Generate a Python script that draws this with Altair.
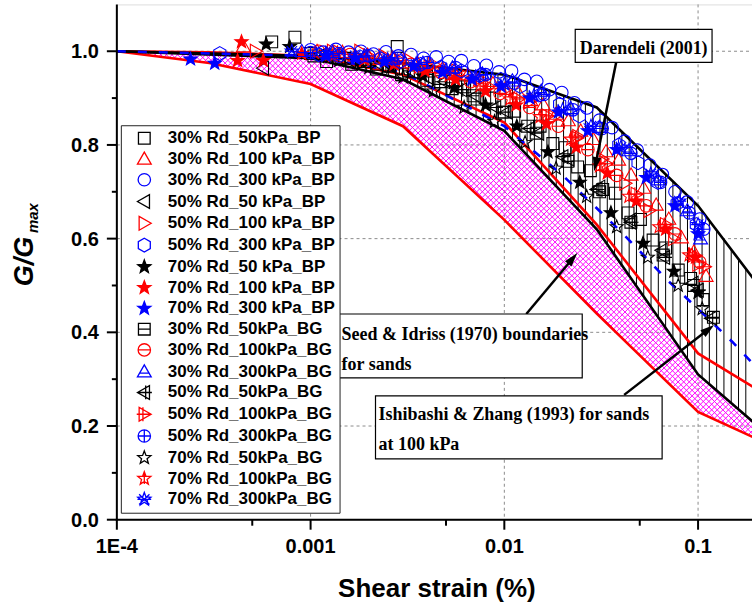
import math
import numpy as np
import pandas as pd
import altair as alt

# ---------------- axis ticks ----------------
X_TICKS = [1e-4, 1e-3, 1e-2, 1e-1]
X_TICK_LABELS = ["1E-4", "0.001", "0.01", "0.1"]
X_MINOR = [5e-4, 5e-3, 5e-2]
Y_TICKS = [0.0, 0.2, 0.4, 0.6, 0.8, 1.0]
Y_TICK_LABELS = ["0.0", "0.2", "0.4", "0.6", "0.8", "1.0"]
Y_MINOR = [0.1, 0.3, 0.5, 0.7, 0.9]

# ---------------- reference curves ----------------
SI_STRAIN = [1e-4, 3e-4, 1e-3, 3e-3, 1e-2, 3e-2, 1e-1, 3e-1]
SI_LOWER = [1.0, 0.975, 0.93, 0.84, 0.64, 0.44, 0.23, 0.14]
SI_UPPER = [1.0, 0.998, 0.99, 0.95, 0.848, 0.63, 0.355, 0.235]

DAR_STRAIN = [1e-4, 1e-3, 3e-3, 1e-2, 3e-2, 1e-1, 3e-1]
DAR_LOWER = [1.0, 0.985, 0.94, 0.83, 0.62, 0.31, 0.14]
DAR_UPPER = [1.0, 0.99, 0.975, 0.95, 0.88, 0.67, 0.41]

IZ_STRAIN = [1e-4, 1e-3, 3e-3, 1e-2, 2e-2, 4e-2, 7e-2, 1e-1, 1.5e-1, 2e-1, 3e-1]
IZ_G = [1.0, 0.99, 0.955, 0.84, 0.735, 0.615, 0.51, 0.45, 0.38, 0.325, 0.26]

# ---------------- test series (strain %, G/Gmax) ----------------
S30_50_BP_X = [0.00063, 0.00083, 0.0028, 0.00104, 0.00121, 0.0014, 0.00163, 0.00189, 0.00219, 0.00255,
               0.00295, 0.00343, 0.00398, 0.00463, 0.00537, 0.00624, 0.00724, 0.0084, 0.00976, 0.0113,
               0.0132, 0.0153, 0.0178, 0.0206, 0.0239, 0.0278, 0.0322, 0.0374, 0.0435, 0.0504,
               0.0586, 0.068, 0.079, 0.0915, 0.106]
S30_50_BP_G = [1.02, 1.03, 1.01, 0.99, 0.978, 0.986, 0.972, 0.978, 0.962, 0.968,
               0.95, 0.956, 0.938, 0.942, 0.92, 0.924, 0.898, 0.9, 0.87, 0.872,
               0.84, 0.84, 0.803, 0.794, 0.753, 0.745, 0.705, 0.697, 0.655, 0.641,
               0.597, 0.58, 0.533, 0.515, 0.47]
S30_100_BP_X = [0.00045, 0.00108, 0.00125, 0.00146, 0.0017, 0.00197, 0.00228, 0.00265, 0.00307, 0.00356,
                0.00414, 0.0048, 0.00557, 0.00648, 0.00752, 0.00873, 0.0101, 0.0118, 0.0137, 0.0159,
                0.0185, 0.0214, 0.0248, 0.0288, 0.0335, 0.0389, 0.0451, 0.0524, 0.0608, 0.0706,
                0.0821, 0.0951, 0.11]
S30_100_BP_G = [1.01, 1.0, 0.993, 0.998, 0.99, 0.992, 0.983, 0.986, 0.976, 0.975,
                0.966, 0.963, 0.952, 0.95, 0.937, 0.931, 0.919, 0.912, 0.895, 0.886,
                0.866, 0.852, 0.83, 0.812, 0.786, 0.768, 0.736, 0.708, 0.672, 0.642,
                0.602, 0.572, 0.52]
S30_300_BP_X = [0.001, 0.00116, 0.00135, 0.00157, 0.00182, 0.00211, 0.00245, 0.00284, 0.0033, 0.00383,
                0.00445, 0.00516, 0.006, 0.00696, 0.00808, 0.00938, 0.0109, 0.0127, 0.0147, 0.0171,
                0.0198, 0.023, 0.0267, 0.031, 0.036, 0.0418, 0.0485, 0.0563, 0.0654, 0.076,
                0.088, 0.102]
S30_300_BP_G = [1.003, 0.998, 1.004, 0.998, 1.0, 0.994, 0.999, 0.99, 0.993, 0.985,
                0.988, 0.978, 0.98, 0.969, 0.97, 0.956, 0.958, 0.94, 0.936, 0.918,
                0.912, 0.89, 0.879, 0.853, 0.837, 0.808, 0.789, 0.757, 0.737, 0.7,
                0.678, 0.642]
S50_50_BP_X = [0.00057, 0.0011, 0.0016, 0.0023, 0.0034, 0.0049, 0.0071, 0.0103, 0.015, 0.0215, 0.031, 0.045, 0.065, 0.094]
S50_50_BP_G = [0.964, 0.99, 0.98, 0.97, 0.955, 0.935, 0.905, 0.87, 0.825, 0.77, 0.71, 0.64, 0.575, 0.505]
S50_100_BP_X = [0.00052, 0.0013, 0.0018, 0.0024, 0.0032, 0.0043, 0.0057, 0.0076, 0.0101, 0.0135, 0.018, 0.024, 0.032, 0.042, 0.056, 0.075, 0.1]
S50_100_BP_G = [1.0, 1.0, 1.0, 0.99, 0.982, 0.972, 0.958, 0.94, 0.918, 0.892, 0.86, 0.818, 0.77, 0.718, 0.66, 0.6, 0.545]
S50_300_BP_X = [0.00034, 0.0011, 0.0014, 0.0018, 0.0023, 0.0029, 0.0037, 0.0047, 0.006, 0.0076, 0.0096, 0.0121, 0.0153, 0.0193, 0.0244, 0.0308, 0.039, 0.049, 0.062, 0.078, 0.098]
S50_300_BP_G = [0.995, 0.993, 0.99, 0.988, 0.984, 0.978, 0.972, 0.966, 0.958, 0.95, 0.94, 0.925, 0.907, 0.887, 0.862, 0.836, 0.8, 0.762, 0.72, 0.675, 0.63]
S70_50_BP_X = [0.00059, 0.00078, 0.0012, 0.0018, 0.0026, 0.0038, 0.0055, 0.008, 0.0116, 0.0168, 0.0245, 0.0355, 0.052, 0.075, 0.1]
S70_50_BP_G = [1.015, 1.01, 0.99, 0.98, 0.965, 0.947, 0.922, 0.885, 0.84, 0.785, 0.72, 0.655, 0.59, 0.53, 0.485]
S70_100_BP_X = [0.00042, 0.00044, 0.00057, 0.0009, 0.0013, 0.0019, 0.0027, 0.0039, 0.0056, 0.008, 0.0115, 0.0165, 0.0235, 0.034, 0.048, 0.068, 0.097]
S70_100_BP_G = [0.98, 1.02, 0.98, 0.995, 0.99, 0.982, 0.972, 0.958, 0.94, 0.915, 0.885, 0.845, 0.795, 0.74, 0.68, 0.62, 0.56]
S70_300_BP_X = [0.00024, 0.00032, 0.0012, 0.0017, 0.0024, 0.0034, 0.0048, 0.0068, 0.0096, 0.0135, 0.019, 0.027, 0.038, 0.054, 0.076, 0.1]
S70_300_BP_G = [0.983, 0.974, 0.99, 0.985, 0.978, 0.968, 0.955, 0.94, 0.925, 0.9, 0.87, 0.83, 0.79, 0.73, 0.67, 0.61]
S30_50_BG_X = [0.001, 0.0015, 0.0022, 0.0032, 0.0047, 0.0069, 0.01, 0.0146, 0.0213, 0.031, 0.045, 0.066, 0.095, 0.12]
S30_50_BG_G = [0.995, 0.985, 0.972, 0.958, 0.935, 0.905, 0.87, 0.825, 0.765, 0.7, 0.635, 0.565, 0.5, 0.432]
S30_100_BG_X = [0.0011, 0.0016, 0.0023, 0.0033, 0.0047, 0.0067, 0.0095, 0.0135, 0.019, 0.027, 0.038, 0.054, 0.076, 0.102]
S30_100_BG_G = [1.0, 0.993, 0.985, 0.972, 0.955, 0.935, 0.91, 0.88, 0.84, 0.79, 0.735, 0.67, 0.61, 0.55]
S30_300_BG_X = [0.0009, 0.0013, 0.0019, 0.0027, 0.0038, 0.0054, 0.0077, 0.011, 0.0155, 0.022, 0.031, 0.044, 0.062, 0.088, 0.103]
S30_300_BG_G = [1.0, 0.998, 0.99, 0.984, 0.975, 0.965, 0.952, 0.937, 0.915, 0.878, 0.838, 0.788, 0.726, 0.66, 0.6]
S50_50_BG_X = [0.0012, 0.0018, 0.0027, 0.004, 0.006, 0.009, 0.0135, 0.02, 0.03, 0.045, 0.067, 0.1, 0.117]
S50_50_BG_G = [0.99, 0.98, 0.965, 0.945, 0.918, 0.88, 0.835, 0.775, 0.705, 0.635, 0.56, 0.49, 0.43]
S50_100_BG_X = [0.0014, 0.002, 0.0029, 0.0041, 0.0058, 0.0083, 0.0118, 0.0167, 0.0237, 0.0336, 0.048, 0.068, 0.095, 0.108]
S50_100_BG_G = [0.998, 0.99, 0.98, 0.966, 0.948, 0.925, 0.898, 0.862, 0.815, 0.76, 0.695, 0.63, 0.565, 0.54]
S50_300_BG_X = [0.001, 0.0014, 0.002, 0.0028, 0.004, 0.0056, 0.008, 0.0113, 0.016, 0.0226, 0.032, 0.045, 0.064, 0.09, 0.107]
S50_300_BG_G = [0.997, 0.995, 0.99, 0.985, 0.976, 0.965, 0.95, 0.932, 0.908, 0.875, 0.835, 0.782, 0.72, 0.655, 0.62]
S70_50_BG_X = [0.0014, 0.002, 0.003, 0.0043, 0.0062, 0.0089, 0.0128, 0.0185, 0.0266, 0.038, 0.055, 0.079, 0.105]
S70_50_BG_G = [0.98, 0.965, 0.945, 0.915, 0.88, 0.85, 0.805, 0.75, 0.69, 0.625, 0.56, 0.5, 0.45]
S70_100_BG_X = [0.0012, 0.0017, 0.0025, 0.0036, 0.0052, 0.0075, 0.0107, 0.0153, 0.022, 0.031, 0.044, 0.063, 0.09]
S70_100_BG_G = [0.995, 0.99, 0.98, 0.965, 0.948, 0.926, 0.898, 0.86, 0.812, 0.755, 0.69, 0.625, 0.565]
S70_300_BG_X = [0.0008, 0.0012, 0.0017, 0.0025, 0.0035, 0.005, 0.0071, 0.01, 0.0142, 0.02, 0.028, 0.04, 0.057, 0.08, 0.1]
S70_300_BG_G = [1.0, 0.995, 0.99, 0.982, 0.972, 0.96, 0.945, 0.93, 0.905, 0.875, 0.84, 0.795, 0.738, 0.68, 0.63]

SERIES = [
    "30% Rd_50kPa_BP", "30% Rd_100 kPa_BP", "30% Rd_300 kPa_BP",
    "50% Rd_50 kPa_BP", "50% Rd_100 kPa_BP", "50% Rd_300 kPa_BP",
    "70% Rd_50 kPa_BP", "70% Rd_100 kPa_BP", "70% Rd_300 kPa_BP",
    "30% Rd_50kPa_BG", "30% Rd_100kPa_BG", "30% Rd_300kPa_BG",
    "50% Rd_50kPa_BG", "50% Rd_100kPa_BG", "50% Rd_300kPa_BG",
    "70% Rd_50kPa_BG", "70% Rd_100kPa_BG", "70% Rd_300kPa_BG",
]
SERIES_DATA = [
    (S30_50_BP_X, S30_50_BP_G), (S30_100_BP_X, S30_100_BP_G), (S30_300_BP_X, S30_300_BP_G),
    (S50_50_BP_X, S50_50_BP_G), (S50_100_BP_X, S50_100_BP_G), (S50_300_BP_X, S50_300_BP_G),
    (S70_50_BP_X, S70_50_BP_G), (S70_100_BP_X, S70_100_BP_G), (S70_300_BP_X, S70_300_BP_G),
    (S30_50_BG_X, S30_50_BG_G), (S30_100_BG_X, S30_100_BG_G), (S30_300_BG_X, S30_300_BG_G),
    (S50_50_BG_X, S50_50_BG_G), (S50_100_BG_X, S50_100_BG_G), (S50_300_BG_X, S50_300_BG_G),
    (S70_50_BG_X, S70_50_BG_G), (S70_100_BG_X, S70_100_BG_G), (S70_300_BG_X, S70_300_BG_G),
]
DRAW_ORDER = [9, 12, 15, 0, 3, 6, 10, 13, 16, 1, 4, 7, 11, 14, 17, 8, 5, 2]

# ---------------- styles ----------------
K, R, B = "#000000", "#FF0000", "#0000FF"
STROKES = [K, R, B, K, R, B, K, R, B, K, R, B, K, R, B, K, R, B]
NONE = "transparent"
FILLS = [NONE, NONE, NONE, NONE, NONE, NONE, K, R, B,
         NONE, NONE, NONE, NONE, NONE, NONE, NONE, NONE, NONE]


def star_path():
    pts = []
    for k in range(10):
        r = 1.0 if k % 2 == 0 else 0.42
        a = math.radians(-90 + 36 * k)
        pts.append(f"{r * math.cos(a):.3f},{r * math.sin(a):.3f}")
    return "M" + "L".join(pts) + "Z"


SQUARE = "M-0.85,-0.85L0.85,-0.85L0.85,0.85L-0.85,0.85Z"
TRI_UP = "M0,-1L1,0.75L-1,0.75Z"
CIRCLE = "M0.9,0A0.9,0.9,0,1,1,-0.9,0A0.9,0.9,0,1,1,0.9,0Z"
TRI_LEFT = "M-1,0L0.75,-1L0.75,1Z"
TRI_RIGHT = "M1,0L-0.75,-1L-0.75,1Z"
HEX = "M0,-1L0.87,-0.5L0.87,0.5L0,1L-0.87,0.5L-0.87,-0.5Z"
STAR = star_path()
SHAPES = [
    SQUARE, TRI_UP, CIRCLE, TRI_LEFT, TRI_RIGHT, HEX, STAR, STAR, STAR,
    SQUARE + "M-0.85,0L0.85,0",
    CIRCLE + "M-0.9,0L0.9,0",
    TRI_UP + "M-0.7,0.2L0.7,0.2",
    TRI_LEFT + "M-1,0L1.1,0M0.2,-1L0.2,1",
    TRI_RIGHT + "M1,0L-1.1,0M-0.2,-1L-0.2,1",
    CIRCLE + "M-0.9,0L0.9,0M0,-0.9L0,0.9",
    STAR,
    STAR + "M-0.95,-0.31L0.95,-0.31M0,-1L0,0.8",
    STAR + "M-0.75,-0.75L0.75,0.75M0.75,-0.75L-0.75,0.75M-1,0L1,0",
]

# ---------------- geometry of the plot area ----------------
W, H = 636, 516
PX_PER_DECADE = 194.0
X_MIN = 1e-4
X_MAX = 10 ** (math.log10(X_MIN) + W / PX_PER_DECADE)
Y_MAX = 1.1
PX_PER_UNIT = H / Y_MAX


def to_u(x):
    return (np.log10(np.asarray(x, float)) - math.log10(X_MIN)) * PX_PER_DECADE


def from_u(u):
    return 10 ** (np.asarray(u, float) / PX_PER_DECADE + math.log10(X_MIN))


XS = alt.Scale(type="log", domain=[X_MIN, X_MAX], nice=False)
YS = alt.Scale(domain=[0, Y_MAX], nice=False, zero=False)
SANS = "Liberation Sans"
SERIF = "Liberation Serif"

# ---------------- hatch construction (decoration derived from the bands) ----------------
grid_u = np.arange(0, W + 0.25, 0.5)
si_u = to_u(SI_STRAIN)
si_lo = np.interp(grid_u, si_u, SI_LOWER)
si_hi = np.interp(grid_u, si_u, SI_UPPER)
segs = []
SP = 5.6
for c in np.arange(-H, W + H + SP, SP):
    for v in (grid_u - c, c - grid_u):
        yy = Y_MAX - v / PX_PER_UNIT
        ok = (v >= 0) & (v <= H) & (yy >= si_lo) & (yy <= si_hi)
        if not ok.any():
            continue
        idx = np.flatnonzero(ok)
        br = np.flatnonzero(np.diff(idx) > 1)
        starts = np.r_[idx[0], idx[br + 1]]
        ends = np.r_[idx[br], idx[-1]]
        for s, e in zip(starts, ends):
            if e > s:
                segs.append((float(from_u(grid_u[s])), float(yy[s]),
                             float(from_u(grid_u[e])), float(yy[e])))
seg_df = pd.DataFrame(segs, columns=["x1", "y1", "x2", "y2"])

dar_u = to_u(DAR_STRAIN)
hu = np.arange(2.0, W, 7.3)
vh_df = pd.DataFrame({
    "x": from_u(hu),
    "y1": np.interp(hu, dar_u, DAR_LOWER),
    "y2": np.interp(hu, dar_u, DAR_UPPER),
})

dar_df = pd.DataFrame({"strain": DAR_STRAIN, "lower": DAR_LOWER, "upper": DAR_UPPER})
dar_lines_df = pd.concat([
    pd.DataFrame({"strain": DAR_STRAIN, "g": DAR_LOWER, "edge": "lower"}),
    pd.DataFrame({"strain": DAR_STRAIN, "g": DAR_UPPER, "edge": "upper"}),
])
si_lines_df = pd.concat([
    pd.DataFrame({"strain": SI_STRAIN, "g": SI_LOWER, "edge": "lower"}),
    pd.DataFrame({"strain": SI_STRAIN, "g": SI_UPPER, "edge": "upper"}),
])
iz_df = pd.DataFrame({"strain": IZ_STRAIN, "g": IZ_G})

rows = []
for i in DRAW_ORDER:
    xs_, gs_ = SERIES_DATA[i]
    for a, b in zip(xs_, gs_):
        rows.append({"strain": a, "g": b, "series": SERIES[i]})
pts_df = pd.DataFrame(rows)
pts_df["order"] = range(len(pts_df))


def X(f):
    return alt.X(f, type="quantitative", scale=XS, axis=None)


def Y(f):
    return alt.Y(f, type="quantitative", scale=YS, axis=None)


ONE = pd.DataFrame({"k": [0]})

# ---------------- hand-built axes ----------------
grid_x = alt.Chart(pd.DataFrame({"v": X_TICKS[1:]})).mark_rule(
    color="#8c8c8c", strokeWidth=1, strokeDash=[3, 3]).encode(
    x=X("v"), y=alt.value(0), y2=alt.value(H))
grid_y = alt.Chart(pd.DataFrame({"v": Y_TICKS[1:]})).mark_rule(
    color="#8c8c8c", strokeWidth=1, strokeDash=[3, 3]).encode(
    y=Y("v"), x=alt.value(0), x2=alt.value(W))

x_lab_df = pd.DataFrame({"v": X_TICKS, "lab": X_TICK_LABELS})
y_lab_df = pd.DataFrame({"v": Y_TICKS, "lab": Y_TICK_LABELS})
x_major = alt.Chart(x_lab_df).mark_rule(color="black", strokeWidth=2).encode(
    x=X("v"), y=alt.value(H), y2=alt.value(H + 10))
y_major = alt.Chart(y_lab_df).mark_rule(color="black", strokeWidth=2).encode(
    y=Y("v"), x=alt.value(-10), x2=alt.value(0))
y_minor = alt.Chart(pd.DataFrame({"v": Y_MINOR})).mark_rule(color="black", strokeWidth=2).encode(
    y=Y("v"), x=alt.value(-5), x2=alt.value(0))
x_minor = alt.Chart(pd.DataFrame({"v": X_MINOR})).mark_rule(color="black", strokeWidth=2).encode(
    x=X("v"), y=alt.value(H), y2=alt.value(H + 6))
x_labels = alt.Chart(x_lab_df).mark_text(
    font=SANS, fontSize=20, fontWeight="bold", color="black", align="center",
    baseline="alphabetic").encode(x=X("v"), y=alt.value(549), text="lab:N")
y_labels = alt.Chart(y_lab_df).mark_text(
    font=SANS, fontSize=20, fontWeight="bold", color="black", align="right",
    baseline="alphabetic", dy=7).encode(y=Y("v"), x=alt.value(-18), text="lab:N")
domain_y = alt.Chart(ONE).mark_rule(color="black", strokeWidth=2).encode(
    x=alt.value(0), y=alt.value(0), y2=alt.value(H + 1))
domain_x = alt.Chart(ONE).mark_rule(color="black", strokeWidth=2).encode(
    y=alt.value(H), x=alt.value(-1), x2=alt.value(W))

# ---------------- data layers ----------------
si_hatch = alt.Chart(seg_df).mark_rule(color="#FF00FF", strokeWidth=1).encode(
    x=X("x1"), y=Y("y1"), x2="x2:Q", y2="y2:Q")
dar_fill = alt.Chart(dar_df).mark_area(color="white", opacity=1).encode(
    x=X("strain"), y=Y("lower"), y2="upper:Q")
dar_hatch = alt.Chart(vh_df).mark_rule(color="black", strokeWidth=1).encode(
    x=X("x"), y=Y("y1"), y2="y2:Q")
si_lines = alt.Chart(si_lines_df).mark_line(color="#FF0000", strokeWidth=2.6).encode(
    x=X("strain"), y=Y("g"), detail="edge:N")
iz_line = alt.Chart(iz_df).mark_line(color="#0000FF", strokeWidth=2.6, strokeDash=[9, 12]).encode(
    x=X("strain"), y=Y("g"))
dar_lines = alt.Chart(dar_lines_df).mark_line(color="black", strokeWidth=2.6).encode(
    x=X("strain"), y=Y("g"), detail="edge:N")

LEG = alt.Legend(
    title=None, orient="none", legendX=4, legendY=121, padding=4.5,
    symbolOffset=10.5, labelOffset=15, rowPadding=2.8,
    labelFont=SANS, labelFontSize=17, labelFontWeight="bold", labelColor="black",
    labelLimit=0, symbolSize=190, symbolStrokeWidth=1.3, symbolFillColor="transparent",
    symbolOpacity=1, fillColor="white", strokeColor="#222222", zindex=1,
)
points = alt.Chart(pts_df).mark_point(size=195, strokeWidth=1.1, opacity=1).encode(
    x=X("strain"), y=Y("g"),
    fill=alt.Fill("series:N", scale=alt.Scale(domain=SERIES, range=FILLS), legend=LEG),
    stroke=alt.Stroke("series:N", scale=alt.Scale(domain=SERIES, range=STROKES), legend=LEG),
    shape=alt.Shape("series:N", scale=alt.Scale(domain=SERIES, range=SHAPES), legend=LEG),
    order="order:Q",
)

OX, OY = 117, 4  # plot-area origin in the page


def box(x0, y0, x1, y1):
    return alt.Chart(ONE).mark_rect(fill="white", stroke="black", strokeWidth=1.2).encode(
        x=alt.value(x0 - OX), x2=alt.value(x1 - OX), y=alt.value(y0 - OY), y2=alt.value(y1 - OY))


def label(txt, x, y, align="left", font=SERIF, size=18, style="normal", angle=0):
    return alt.Chart(ONE).mark_text(
        text=txt, font=font, fontSize=size, fontWeight="bold", fontStyle=style,
        align=align, baseline="alphabetic", color="black", angle=angle,
    ).encode(x=alt.value(x - OX), y=alt.value(y - OY))


ARROW_HEAD = "M0,-1L0.6,1L-0.6,1Z"


def arrow(x0, y0, x1, y1):
    ang = math.degrees(math.atan2(x1 - x0, -(y1 - y0))) % 360
    L = math.hypot(x1 - x0, y1 - y0)
    ux, uy = (x1 - x0) / L, (y1 - y0) / L
    cx, cy = x1 - ux * 7, y1 - uy * 7
    line = alt.Chart(ONE).mark_rule(color="black", strokeWidth=2.5).encode(
        x=alt.value(x0 - OX), y=alt.value(y0 - OY),
        x2=alt.value(cx - OX), y2=alt.value(cy - OY))
    head = alt.Chart(ONE).mark_point(shape=ARROW_HEAD, size=200, filled=True, color="black",
                                     opacity=1, angle=ang).encode(
        x=alt.value(cx - OX), y=alt.value(cy - OY))
    return [line, head]


annos = []
annos += arrow(617, 62, 595, 171)
annos += arrow(527, 314, 578, 253)
annos += arrow(625, 395, 715, 325)
annos += [
    box(576, 29, 713, 62), label("Darendeli (2001)", 644.5, 54, align="center"),
    box(338, 314, 583, 378), label("Seed & Idriss (1970) boundaries", 342, 340),
    label("for sands", 342, 370),
    box(376, 396, 663, 459), label("Ishibashi & Zhang (1993) for sands", 379, 420),
    label("at 100 kPa", 379, 450),
    label("Shear strain (%)", 437.5, 597, align="center", font=SANS, size=26),
    label("G/G", 33, 261.5, align="center", font=SANS, size=27, style="italic", angle=270),
    label("max", 38, 233, align="left", font=SANS, size=15, style="italic", angle=270),
]

chart = alt.layer(
    grid_x, grid_y,
    si_hatch, dar_fill, dar_hatch, si_lines, dar_lines, iz_line, points,
    domain_y, domain_x, x_major, y_major, y_minor, x_minor, x_labels, y_labels,
    *annos,
).properties(
    width=W, height=H,
    padding={"left": OX, "top": OY, "right": 0, "bottom": 606 - OY - H},
    autosize=alt.AutoSizeParams(type="none"),
).configure_view(stroke="#444444", strokeWidth=1).configure(background="white")

chart.save("out.html", embed_options={"renderer": "svg", "actions": False})
